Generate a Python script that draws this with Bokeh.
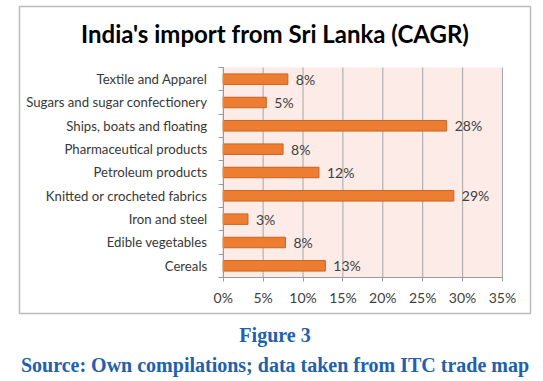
from bokeh.plotting import figure
from bokeh.models import (Range1d, FixedTicker, NumeralTickFormatter, Label,
                          BoxAnnotation, ColumnDataSource, Title)
from bokeh.core.properties import value
from bokeh.embed import file_html
from bokeh.resources import INLINE

categories = ["Textile and Apparel", "Sugars and sugar confectionery",
              "Ships, boats and floating", "Pharmaceutical products",
              "Petroleum products", "Knitted or crocheted fabrics",
              "Iron and steel", "Edible vegetables", "Cereals"]
cagr = [0.081, 0.054, 0.280, 0.075, 0.120, 0.289, 0.031, 0.078, 0.128]
labels = ["8%", "5%", "28%", "8%", "12%", "29%", "3%", "8%", "13%"]
x_ticks = [0.0, 0.05, 0.10, 0.15, 0.20, 0.25, 0.30, 0.35]

title_text = "India's import from Sri Lanka (CAGR)"
fig_text = "Figure 3"
source_text = "Source: Own compilations; data taken from ITC trade map"

W, H = 543, 381
n = len(categories)
pos = [n - 1 - i + 0.5 for i in range(n)]  # top-to-bottom order
XMAX = x_ticks[-1]

src = ColumnDataSource(dict(y=pos, v=cagr, lab=labels, cat=categories))
grid_src = ColumnDataSource(dict(x=x_ticks, y0=[0] * len(x_ticks),
                                 y1=[n] * len(x_ticks)))

# frame = outer chart box; data area is placed inside via range padding
p = figure(width=W, height=H, output_backend="svg", toolbar_location=None,
           x_range=Range1d(-0.2553, 0.3851), y_range=Range1d(-1.543, 11.614),
           min_border_left=19, min_border_right=13, min_border_top=6,
           min_border_bottom=68)
p.title.visible = False
p.background_fill_color = "white"
p.border_fill_color = "white"
p.outline_line_color = "#BDBDBD"
p.outline_line_width = 1.5
p.xgrid.visible = False
p.ygrid.visible = False

p.add_layout(BoxAnnotation(left=0, right=XMAX, bottom=0, top=n,
                           fill_color="#FCEBE6", fill_alpha=1,
                           line_color=None, level="underlay"))
p.segment(x0="x", y0="y0", x1="x", y1="y1", source=grid_src,
          line_color="#A6A6A6", line_width=1)

p.hbar(y="y", right="v", left=0, height=0.45, source=src,
       fill_color="#ED7D31", line_color="#C8641E", line_width=1)
p.text(x="v", y="y", text="lab", source=src, x_offset=8,
       text_baseline="middle", text_align="left", text_font_size="14px",
       text_font=value("Lato"), text_color="#404040")

# axes
p.xaxis.fixed_location = 0
p.xaxis.bounds = (0, XMAX)
p.xaxis.ticker = FixedTicker(ticks=x_ticks, minor_ticks=[])
p.xaxis.formatter = NumeralTickFormatter(format="0%")
p.xaxis.axis_line_color = "#9A9A9A"
p.xaxis.major_tick_line_color = "#9A9A9A"
p.xaxis.major_tick_out = 4
p.xaxis.major_tick_in = 0
p.xaxis.major_label_text_font = "Lato"
p.xaxis.major_label_text_font_size = "14px"
p.xaxis.major_label_text_color = "#404040"
p.xaxis.major_label_standoff = 8

p.yaxis.fixed_location = 0
p.yaxis.bounds = (0, n)
p.yaxis.ticker = FixedTicker(ticks=pos, minor_ticks=list(range(n + 1)))
p.yaxis.major_label_overrides = {pos[i]: categories[i] for i in range(n)}
p.yaxis.axis_line_color = "#9A9A9A"
p.yaxis.major_tick_line_color = None
p.yaxis.major_tick_out = 0
p.yaxis.major_tick_in = 0
p.yaxis.minor_tick_line_color = "#9A9A9A"
p.yaxis.minor_tick_out = 5
p.yaxis.minor_tick_in = 0
p.yaxis.major_label_text_font = "Lato"
p.yaxis.major_label_text_font_size = "13.2px"
p.yaxis.major_label_text_color = "#383838"
p.yaxis.major_label_standoff = 11

# chart title inside the box (screen units relative to the frame)
p.add_layout(Label(x=255.5, y=280, x_units="screen", y_units="screen",
                   text=title_text, text_align="center", text_baseline="middle",
                   text_font="Lato", text_font_style="bold",
                   text_font_size="24px", text_color="black"))

# captions below the box
p.add_layout(Title(text=fig_text, align="center", text_font="Liberation Serif",
                   text_font_style="bold", text_font_size="20px",
                   text_color="#2160AD", standoff=17), "below")
p.add_layout(Title(text=source_text, align="center", text_font="Liberation Serif",
                   text_font_style="bold", text_font_size="20px",
                   text_color="#2160AD", standoff=-5), "below")

open("out.html", "w").write(file_html(p, INLINE))
